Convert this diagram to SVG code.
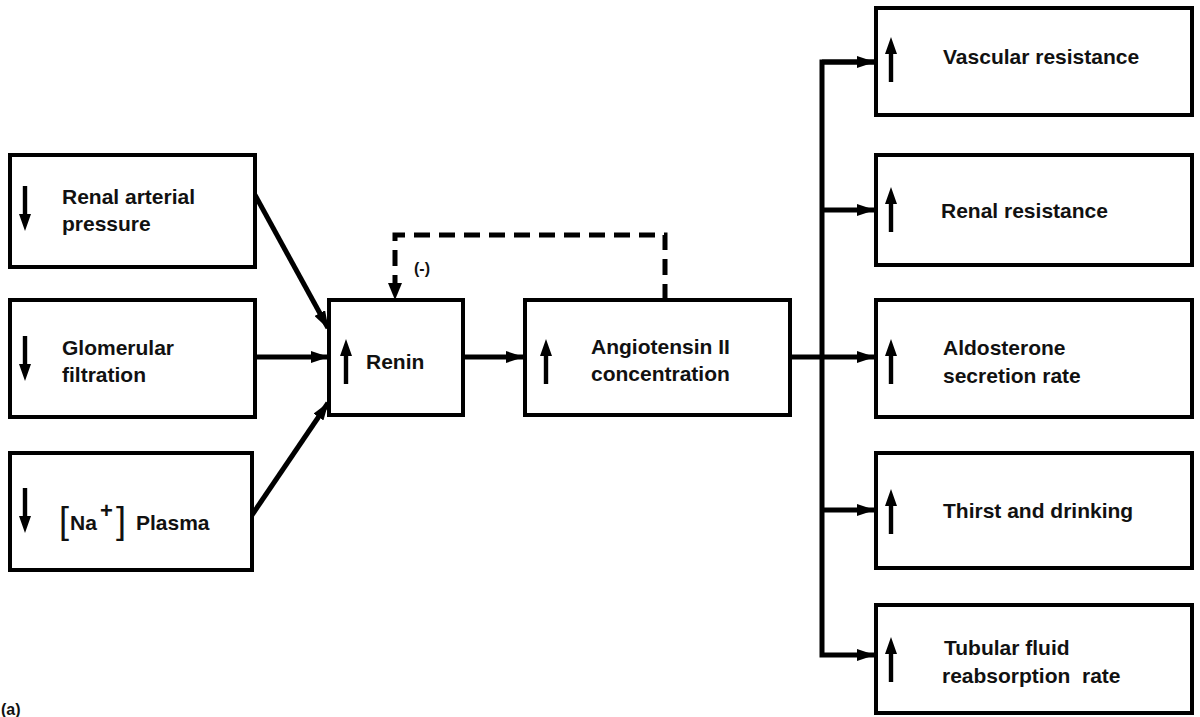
<svg xmlns="http://www.w3.org/2000/svg" width="1200" height="717" viewBox="0 0 1200 717">
<defs>
<marker id="ahb" markerWidth="18" markerHeight="12" refX="17" refY="6" orient="auto" markerUnits="userSpaceOnUse" viewBox="0 0 18 12">
<path d="M0,0 L18,6 L0,12 Z" fill="#000"/>
</marker>
<g id="up"><path d="M0,-23 L-6,-6 L-2.2,-6 L-2.2,22 L2.2,22 L2.2,-6 L6,-6 Z" fill="#000"/></g>
<g id="down"><path d="M0,23 L-6,6 L-2.2,6 L-2.2,-22 L2.2,-22 L2.2,6 L6,6 Z" fill="#000"/></g>
</defs>
<style>
.box{fill:#fff;stroke:#000;stroke-width:4}
.t{font-family:"Liberation Sans",Arial,sans-serif;font-weight:bold;font-size:21px;fill:#111}
.c{fill:none;stroke:#000;stroke-width:5}
.d{fill:none;stroke:#000;stroke-width:5;stroke-dasharray:16 9}
</style>
<rect width="1200" height="717" fill="#fff"/>

<g id="connectors">
<line class="c" x1="255" y1="195" x2="328" y2="328" marker-end="url(#ahb)"/>
<line class="c" x1="255" y1="357" x2="328" y2="357" marker-end="url(#ahb)"/>
<line class="c" x1="252" y1="515" x2="328" y2="403" marker-end="url(#ahb)"/>
<line class="c" x1="463" y1="357" x2="523" y2="357" marker-end="url(#ahb)"/>
<polyline class="d" points="665,300 665,235 395,235 395,290"/>
<path d="M388,283 L402,283 L395,300 Z" fill="#000"/>
<line class="c" x1="790" y1="357" x2="874" y2="357" marker-end="url(#ahb)"/>
<polyline class="c" points="874,62 822,62 822,655 874,655" marker-end="url(#ahb)"/>
<line class="c" x1="822" y1="210" x2="874" y2="210" marker-end="url(#ahb)"/>
<line class="c" x1="822" y1="510" x2="874" y2="510" marker-end="url(#ahb)"/>
<line class="c" x1="822" y1="62" x2="874" y2="62" marker-end="url(#ahb)"/>
</g>

<g id="n-rap">
<rect class="box" x="10" y="155" width="245" height="112"/>
<use href="#down" x="25" y="208"/>
<text class="t" x="62" y="204">Renal arterial</text>
<text class="t" x="62" y="231">pressure</text>
</g>
<g id="n-gfr">
<rect class="box" x="10" y="300" width="245" height="117"/>
<use href="#down" x="25" y="358"/>
<text class="t" x="62" y="355">Glomerular</text>
<text class="t" x="62" y="382">filtration</text>
</g>
<g id="n-na">
<rect class="box" x="10" y="453" width="242" height="117"/>
<use href="#down" x="25" y="510"/>
<text class="t" x="59" y="533" style="font-weight:normal;font-size:36px">[</text>
<text class="t" x="70" y="530">Na</text>
<text class="t" x="100" y="518" style="font-size:22px">+</text>
<text class="t" x="116" y="533" style="font-weight:normal;font-size:36px">]</text>
<text class="t" x="136" y="530">Plasma</text>
</g>
<g id="n-renin">
<rect class="box" x="329" y="300" width="134" height="115"/>
<use href="#up" x="346" y="362"/>
<text class="t" x="366" y="369">Renin</text>
<text class="t" x="414" y="274" style="font-size:16px">(-)</text>
</g>
<g id="n-ang">
<rect class="box" x="525" y="300" width="265" height="115"/>
<use href="#up" x="546" y="362"/>
<text class="t" x="591" y="354">Angiotensin II</text>
<text class="t" x="591" y="381">concentration</text>
</g>
<g id="n-vasc">
<rect class="box" x="876" y="8" width="316" height="107"/>
<use href="#up" x="891" y="60"/>
<text class="t" x="943" y="64">Vascular resistance</text>
</g>
<g id="n-renal">
<rect class="box" x="876" y="155" width="316" height="110"/>
<use href="#up" x="891" y="210"/>
<text class="t" x="941" y="218">Renal resistance</text>
</g>
<g id="n-aldo">
<rect class="box" x="876" y="300" width="316" height="117"/>
<use href="#up" x="891" y="362"/>
<text class="t" x="943" y="355">Aldosterone</text>
<text class="t" x="943" y="383">secretion rate</text>
</g>
<g id="n-thirst">
<rect class="box" x="876" y="453" width="316" height="115"/>
<use href="#up" x="891" y="512"/>
<text class="t" x="943" y="518">Thirst and drinking</text>
</g>
<g id="n-tub">
<rect class="box" x="876" y="605" width="316" height="108"/>
<use href="#up" x="891" y="660"/>
<text class="t" x="944" y="655">Tubular fluid</text>
<text class="t" x="942" y="683">reabsorption&#160; rate</text>
</g>
<text class="t" x="1" y="715" style="font-size:16px">(a)</text>
</svg>
